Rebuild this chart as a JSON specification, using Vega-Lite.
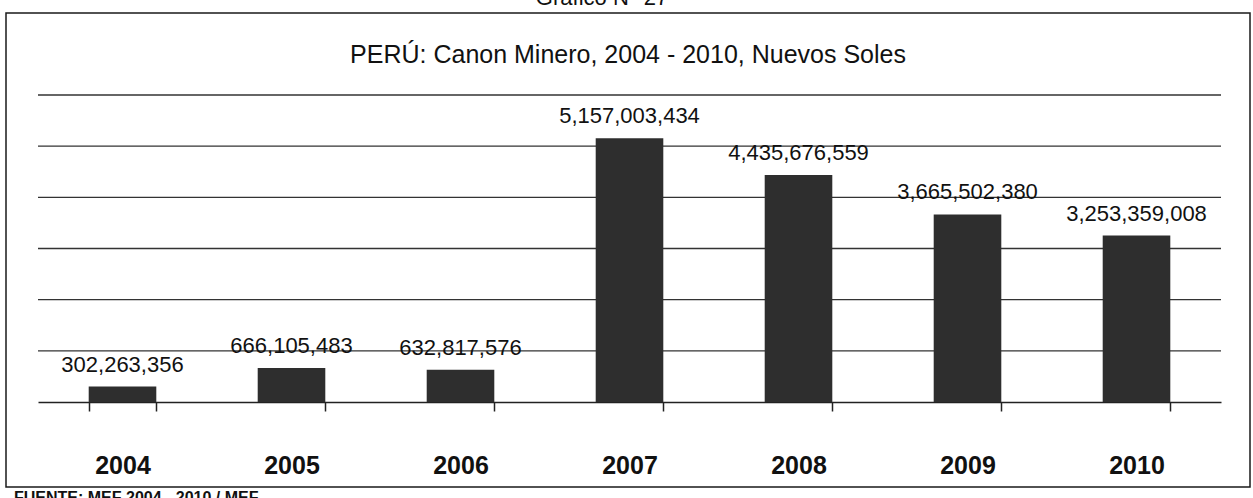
{
  "$schema": "https://vega.github.io/schema/vega-lite/v6.json",
  "width": 1244,
  "height": 474,
  "autosize": "none",
  "padding": {"left": 6, "top": 13, "right": 3, "bottom": 11},
  "background": "white",
  "config": {"view": {"stroke": "#1a1a1a", "strokeWidth": 1.5}, "font": "Liberation Sans"},
  "data": {"values": [
    {"year": "2004", "v": 302263356},
    {"year": "2005", "v": 666105483},
    {"year": "2006", "v": 632817576},
    {"year": "2007", "v": 5157003434},
    {"year": "2008", "v": 4435676559},
    {"year": "2009", "v": 3665502380},
    {"year": "2010", "v": 3253359008}
  ]},
  "layer": [
    {
      "data": {"values": [{"g": 1000000000}, {"g": 2000000000}, {"g": 3000000000}, {"g": 4000000000}, {"g": 5000000000}, {"g": 6000000000}]},
      "mark": {"type": "rule", "color": "#333333", "strokeWidth": 1.3},
      "encoding": {
        "x": {"datum": 0, "type": "quantitative", "scale": {"domain": [0, 1], "range": [32, 1215]}, "axis": null},
        "x2": {"datum": 1},
        "y": {"field": "g", "type": "quantitative", "scale": {"domain": [-1661000000, 7603000000], "nice": false, "zero": false}, "axis": null}
      }
    },
    {
      "encoding": {
        "x": {"field": "year", "type": "nominal", "scale": {"range": [32, 1215], "paddingInner": 0.6, "paddingOuter": 0.3},
          "axis": {"orient": "bottom", "offset": -85, "title": null, "labelAngle": 0, "labelFont": "Liberation Sans", "labelFontSize": 25, "labelFontWeight": "bold", "labelColor": "#111", "labelPadding": 42, "tickBand": "extent", "tickSize": 9, "tickWidth": 1.5, "tickColor": "#222", "domainColor": "#222", "domainWidth": 1.6, "grid": false}},
        "y": {"field": "v", "type": "quantitative"}
      },
      "layer": [
        {"mark": {"type": "bar", "color": "#2e2e2e"}, "encoding": {"y2": {"datum": 0}}},
        {"mark": {"type": "text", "baseline": "middle", "dy": -22, "font": "Liberation Sans", "fontSize": 22, "color": "#111"},
         "encoding": {"text": {"field": "v", "type": "quantitative", "format": ","}}}
      ]
    },
    {
      "data": {"values": [{"t": "PERÚ: Canon Minero, 2004 - 2010, Nuevos Soles"}]},
      "mark": {"type": "text", "baseline": "middle", "font": "Liberation Sans", "fontSize": 25, "color": "#111"},
      "encoding": {"y": {"datum": 6780000000, "type": "quantitative"}, "text": {"field": "t"}}
    },
    {
      "data": {"values": [{"t": "Gráfico N° 27"}]},
      "mark": {"type": "text", "baseline": "alphabetic", "dx": -26, "font": "Liberation Sans", "fontSize": 22, "color": "#111"},
      "encoding": {"y": {"datum": 7758000000, "type": "quantitative"}, "text": {"field": "t"}}
    },
    {
      "data": {"values": [{"t": "FUENTE: MEF 2004 - 2010 / MEF"}]},
      "mark": {"type": "text", "baseline": "top", "align": "left", "dx": -24, "font": "Liberation Sans", "fontSize": 16, "fontWeight": "bold", "color": "#111"},
      "encoding": {
        "x": {"datum": 0, "type": "quantitative", "scale": {"domain": [0, 1], "range": [32, 1215]}, "axis": null},
        "y": {"datum": -1720000000, "type": "quantitative"},
        "text": {"field": "t"}
      }
    }
  ],
  "resolve": {"scale": {"x": "independent"}}
}
